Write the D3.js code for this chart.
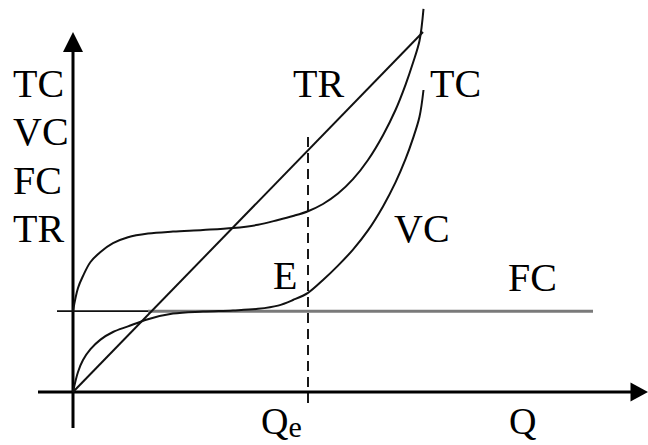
<!DOCTYPE html>
<html>
<head>
<meta charset="utf-8">
<script src="https://cdn.jsdelivr.net/npm/d3@7"></script>
<style>
  html, body { margin: 0; padding: 0; background: #fff; }
  svg { display: block; }
  text { font-family: "Liberation Serif", "Times New Roman", serif; fill: #000; }
</style>
</head>
<body>
<svg id="chart" width="648" height="445"></svg>
<script>
// ---- data ----
const quantity = [0, 1, 2, 3.5, 5.5, 8, 11, 15, 20, 26, 32, 37, 41, 44, 47, 50, 53, 56, 59, 62, 64.5, 66.5, 68, 69.3, 70.1];
const variableCost = [0, 5, 8, 10.7, 13.1, 15, 16.4, 18.2, 19.6, 20.1, 20.4, 20.8, 21.6, 23, 24.8, 28, 31.6, 35.6, 40.4, 46.4, 52.4, 58.2, 63.4, 68.8, 75.5];
const totalCost = [20.3, 26, 29, 32.5, 35, 37.2, 38.7, 39.6, 40.1, 40.5, 41, 41.8, 43, 44, 45.2, 47, 49.6, 53.2, 58, 64.2, 70.5, 76.8, 82.3, 87.8, 95.8];
const revenueQ = [0, 70];
const totalRevenue = [0, 90];
const fixedCost = 20.2;
const fixedCostRange = [-3.2, 104];
const equilibriumQ = 47;
const axisLabelsY = ["TC", "VC", "FC", "TR"];

// ---- scales ----
const svg = d3.select("#chart");
const x = d3.scaleLinear().domain([0, 115]).range([73, 648]);
const y = d3.scaleLinear().domain([0, 98]).range([392, 0]);

const line = d3.line().x(d => x(d[0])).y(d => y(d[1]));
const curve = d3.line().x(d => x(d[0])).y(d => y(d[1])).curve(d3.curveCatmullRom.alpha(0.5));

// ---- axes ----
svg.append("path").attr("d", line([[0, -9], [0, 85]]))
  .attr("stroke", "#000").attr("stroke-width", 3).attr("fill", "none");
svg.append("path").attr("d", line([[-7, 0], [111.8, 0]]))
  .attr("stroke", "#000").attr("stroke-width", 3).attr("fill", "none");
// arrowheads
svg.append("path")
  .attr("d", `M${x(0)},${y(90)} L${x(0) - 10},${y(85)} L${x(0) + 10},${y(85)} Z`)
  .attr("fill", "#000");
svg.append("path")
  .attr("d", `M${x(115)},${y(0)} L${x(111.5)},${y(0) - 9.5} L${x(111.5)},${y(0) + 9.5} Z`)
  .attr("fill", "#000");

// ---- fixed cost line ----
svg.append("path").attr("d", line([[15, fixedCost], [fixedCostRange[1], fixedCost]]))
  .attr("stroke", "#7a7a7a").attr("stroke-width", 3).attr("fill", "none");
svg.append("path").attr("d", line([[fixedCostRange[0], fixedCost], [15, fixedCost]]))
  .attr("stroke", "#111").attr("stroke-width", 1.8).attr("fill", "none");

// ---- dashed Qe line ----
svg.append("path").attr("d", line([[equilibriumQ, -2.75], [equilibriumQ, 64]]))
  .attr("stroke", "#000").attr("stroke-width", 1.8).attr("stroke-dasharray", "10,6").attr("fill", "none");

// ---- curves ----
svg.append("path").attr("d", curve(d3.zip(quantity, variableCost)))
  .attr("stroke", "#111").attr("stroke-width", 2).attr("fill", "none");
svg.append("path").attr("d", curve(d3.zip(quantity, totalCost)))
  .attr("stroke", "#111").attr("stroke-width", 2).attr("fill", "none");
svg.append("path").attr("d", line(d3.zip(revenueQ, totalRevenue)))
  .attr("stroke", "#111").attr("stroke-width", 2).attr("fill", "none");

// ---- labels ----
const fs = 40;
axisLabelsY.forEach((t, i) => {
  svg.append("text").attr("x", 13).attr("y", 97 + i * 48.3).attr("font-size", fs).text(t);
});
svg.append("text").attr("x", 293).attr("y", 97).attr("font-size", fs).text("TR");
svg.append("text").attr("x", 430).attr("y", 97).attr("font-size", fs).text("TC");
svg.append("text").attr("x", 394).attr("y", 242).attr("font-size", fs).text("VC");
svg.append("text").attr("x", 273).attr("y", 289).attr("font-size", fs).text("E");
svg.append("text").attr("x", 508).attr("y", 291).attr("font-size", fs).text("FC");
svg.append("text").attr("x", 509).attr("y", 434).attr("font-size", 38).text("Q");
const qe = svg.append("text").attr("x", 261).attr("y", 434).attr("font-size", 38).text("Q");
qe.append("tspan").attr("font-size", 30).attr("dy", 3).text("e");
</script>
</body>
</html>
